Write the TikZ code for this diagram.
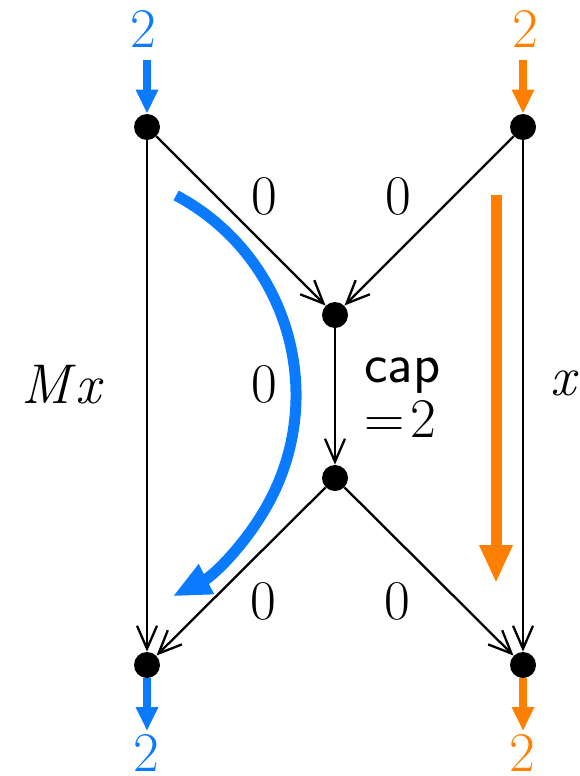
\documentclass[tikz,border=0pt]{standalone}
\usepackage{fontspec}
\usetikzlibrary{arrows.meta}
\definecolor{flowblue}{RGB}{10,122,255}
\definecolor{floworange}{RGB}{255,127,0}
\begin{document}
\begin{tikzpicture}[x=0.5pt,y=-0.5pt,
  vtx/.style={circle,fill=black,inner sep=0pt,minimum size=13pt},
  edge/.style={line width=1.15pt,-{Straight Barb[length=11.5pt,width=10pt]}},
  lbl/.style={font=\fontsize{28}{28}\selectfont,inner sep=0pt},
  smallflow/.style={line width=4pt,-{Triangle[length=12pt,width=10.5pt]}},
  bigflow/.style={line width=5.5pt,-{Triangle[length=19pt,width=15.5pt]}},
]
\useasboundingbox (0,0) rectangle (579,776);
% vertices
\node[vtx] (tl) at (147,127) {};
\node[vtx] (tr) at (523,127) {};
\node[vtx] (um) at (335,315) {};
\node[vtx] (lm) at (335,478) {};
\node[vtx] (bl) at (147,665) {};
\node[vtx] (br) at (523,665) {};
% edges
\draw[edge] (tl) -- (um);
\draw[edge] (tr) -- (um);
\draw[edge] (um) -- (lm);
\draw[edge] (lm) -- (bl);
\draw[edge] (lm) -- (br);
\draw[edge] (tl) -- (bl);
\draw[edge] (tr) -- (br);
% in/out flows
\coordinate (tlin) at (147,60);
\coordinate (trin) at (523,60);
\coordinate (blout) at (147,731);
\coordinate (brout) at (523,731);
\draw[smallflow,flowblue] (tlin) -- (tl);
\draw[smallflow,floworange] (trin) -- (tr);
\draw[smallflow,flowblue] (bl) -- (blout);
\draw[smallflow,floworange] (br) -- (brout);
% big flow arrows
\coordinate (ofs) at (496,195);
\coordinate (ofe) at (496,583);
\draw[bigflow,floworange] (ofs) -- (ofe);
\coordinate (bc) at (70,395);
\draw[bigflow,flowblue] (bc) ++(-62:226) arc[start angle=-62,end angle=63,radius=226];
% labels
\node[lbl,text=flowblue] (tlnum) at (143,29) {2};
\node[lbl,text=floworange] (trnum) at (525,29) {2};
\node[lbl,text=flowblue] (blnum) at (146,753) {2};
\node[lbl,text=floworange] (brnum) at (522,753) {2};
\node[lbl,anchor=base] (mx) at (61,403) {\itshape M\kern2.5pt x};
\node[lbl,anchor=base] (xl) at (563,395) {\itshape x};
\node[lbl] (z1) at (264,196) {0};
\node[lbl] (z2) at (398,196) {0};
\node[lbl] (z3) at (264,384) {0};
\node[lbl] (z4) at (263,601) {0};
\node[lbl] (z5) at (397,601) {0};
\node[lbl,anchor=base west] (cap1) at (364,382) {\sffamily cap};
\node[lbl,anchor=base west] (cap2) at (364,437) {=\kern3pt 2};
\end{tikzpicture}
\end{document}
